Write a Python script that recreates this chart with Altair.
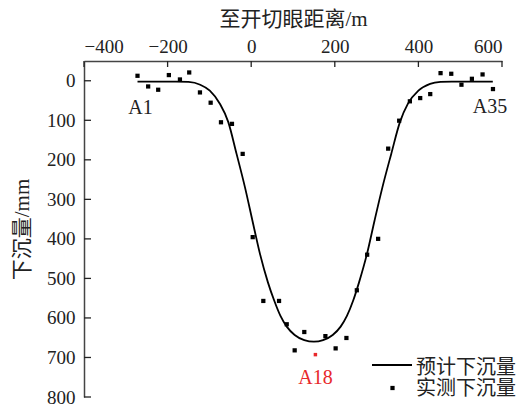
import altair as alt
import pandas as pd

# measured subsidence (A1..A35)
meas_x = [-272, -246.5, -222.5, -197, -170.5, -148.3, -122.6, -97, -72.3, -46, -20.4,
          3.6, 29, 66.6, 85, 104, 127, 153.6, 177.5, 202, 227.8, 252.7, 277.4, 303.7,
          327.7, 354, 379.6, 404.3, 428.3, 453, 478.6, 503, 528, 553.5, 578.4]
meas_y = [-12.6, 14.4, 22.7, -14.4, -3.3, -21, 29.5, 55.5, 105, 109, 185,
          395.6, 557, 557, 616, 682, 635.6, 692.8, 646, 677, 650.7, 530, 440, 399.9,
          171.7, 101, 52, 43.8, 33.7, -19.3, -17.7, 10, -5, -16, 21]
point_ids = [f"A{i}" for i in range(1, 36)]

# predicted subsidence curve
pred_x = [-272, -180, -150, -122, -99, -75, -55, -35, -15, 3, 21, 40, 55, 70, 85, 104, 127,
          150, 172, 195, 214, 229, 244, 258, 277, 295, 314, 335, 356, 375, 400, 428, 453, 480, 578]
pred_y = [2, 2, 3, 10, 25, 58, 104, 185, 269, 354, 438, 510, 556, 595, 622, 643, 656,
          660, 656, 643, 622, 595, 556, 510, 438, 354, 269, 185, 104, 58, 25, 8, 3, 2, 2]

x_ticks = [-400, -200, 0, 200, 400, 600]
y_ticks = [0, 100, 200, 300, 400, 500, 600, 700, 800]
legend_labels = ["预计下沉量", "实测下沉量"]
x_title = "至开切眼距离/m"
y_title = "下沉量/mm"

FONT = "Liberation Serif, Times New Roman, Noto Sans CJK SC"
RED = "#e8282b"

meas = pd.DataFrame({"x": meas_x, "y": meas_y, "id": point_ids})
pred = pd.DataFrame({"x": pred_x, "y": pred_y})

xs = alt.Scale(domain=[-400, 600], nice=False, zero=False)
ys = alt.Scale(domain=[-50, 800], reverse=True, nice=False, zero=False)

xax = alt.Axis(orient="top", values=x_ticks, ticks=False, tickSize=0, grid=False,
               labelPadding=5, title=x_title, titlePadding=8, format="d")
yax = alt.Axis(orient="left", values=y_ticks, ticks=False, tickSize=0, grid=False,
               labelPadding=9, title=y_title, titlePadding=14, format="d")

line = alt.Chart(pred).mark_line(color="black", strokeWidth=1.8, interpolate="monotone").encode(
    x=alt.X("x:Q", scale=xs, axis=xax),
    y=alt.Y("y:Q", scale=ys, axis=yax),
)

pts_black = alt.Chart(meas).transform_filter(alt.datum.id != "A18").mark_square(
    color="black", size=18, opacity=1).encode(x=alt.X("x:Q", scale=xs), y=alt.Y("y:Q", scale=ys))
pts_red = alt.Chart(meas).transform_filter(alt.datum.id == "A18").mark_square(
    color=RED, size=12, opacity=1).encode(x=alt.X("x:Q", scale=xs), y=alt.Y("y:Q", scale=ys))

lab_a1 = alt.Chart(meas).transform_filter(alt.datum.id == "A1").mark_text(
    font=FONT, fontSize=20, color="#222", dx=3, dy=32).encode(
    x=alt.X("x:Q", scale=xs), y=alt.Y("y:Q", scale=ys), text="id:N")
lab_a35 = alt.Chart(meas).transform_filter(alt.datum.id == "A35").mark_text(
    font=FONT, fontSize=20, color="#222", dx=-3, dy=18).encode(
    x=alt.X("x:Q", scale=xs), y=alt.Y("y:Q", scale=ys), text="id:N")
lab_a18 = alt.Chart(meas).transform_filter(alt.datum.id == "A18").mark_text(
    font=FONT, fontSize=20, color=RED, dy=23).encode(
    x=alt.X("x:Q", scale=xs), y=alt.Y("y:Q", scale=ys), text="id:N")

xt = pd.DataFrame({"v": x_ticks})
yt = pd.DataFrame({"v": y_ticks})
x_tick_marks = alt.Chart(xt).mark_rule(color="#222", strokeWidth=1.3).encode(
    x=alt.X("v:Q", scale=xs), y=alt.value(0), y2=alt.value(6))
y_tick_marks = alt.Chart(yt).mark_rule(color="#222", strokeWidth=1.3).encode(
    y=alt.Y("v:Q", scale=ys), x=alt.value(0), x2=alt.value(7))

leg = pd.DataFrame({"label": legend_labels, "row": [0, 1]})
leg_line = alt.Chart(leg).transform_filter(alt.datum.row == 0).mark_rule(
    color="black", strokeWidth=1.8).encode(x=alt.value(288), x2=alt.value(328), y=alt.value(304))
leg_sq = alt.Chart(leg).transform_filter(alt.datum.row == 1).mark_square(
    color="black", size=18, opacity=1).encode(x=alt.value(308.5), y=alt.value(327))
leg_txt1 = alt.Chart(leg).transform_filter(alt.datum.row == 0).mark_text(
    font=FONT, fontSize=20, color="#222", align="left", baseline="middle").encode(
    x=alt.value(332), y=alt.value(307), text="label:N")
leg_txt2 = alt.Chart(leg).transform_filter(alt.datum.row == 1).mark_text(
    font=FONT, fontSize=20, color="#222", align="left", baseline="middle").encode(
    x=alt.value(332), y=alt.value(328), text="label:N")

chart = alt.layer(
    line, pts_black, pts_red, lab_a1, lab_a35, lab_a18,
    x_tick_marks, y_tick_marks, leg_line, leg_sq, leg_txt1, leg_txt2
).properties(
    width=418, height=336,
    autosize=alt.AutoSizeParams(type="none"),
    padding={"left": 76, "top": 53, "right": 15, "bottom": 10},
).configure_view(stroke="transparent").configure_axis(
    labelFont=FONT, titleFont=FONT, labelFontSize=19, titleFontSize=21,
    labelColor="#222", titleColor="#222", titleFontWeight="normal",
    domainColor="#444", domainWidth=1.5,
)

chart.save("out.html", embed_options={"renderer": "svg", "actions": False})
